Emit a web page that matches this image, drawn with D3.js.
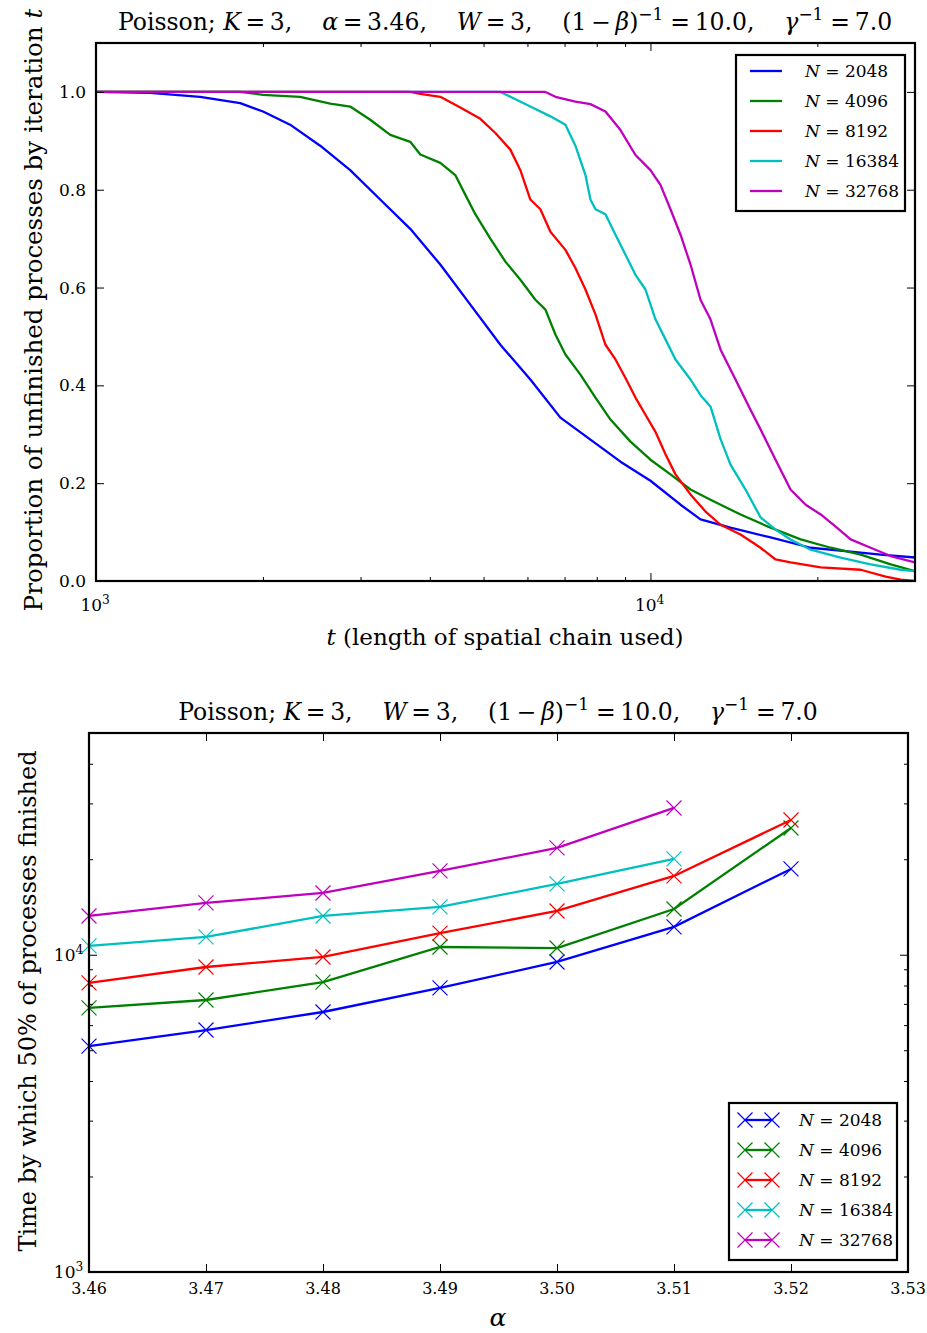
<!DOCTYPE html>
<html><head><meta charset="utf-8">
<script src="https://cdn.jsdelivr.net/npm/d3@7"></script>
<style>
body{margin:0;background:#fff}
text{font-family:"DejaVu Serif","Liberation Serif",serif;fill:#000}
</style>
</head><body>
<svg id="c" width="927" height="1333"></svg>
<script>
// ---------- DATA ----------
const seriesN = [2048, 4096, 8192, 16384, 32768];
const seriesColors = ["#0000ff", "#008000", "#ff0000", "#00bfbf", "#bf00bf"];

// Top chart: proportion of unfinished processes vs t  ([t, proportion])
const curve2048 = [[1000,1],[1252,0.998],[1541,0.99],[1820,0.977],[2001,0.96],[2239,0.933],[2537,0.89],[2874,0.84],[3255,0.78],[3688,0.72],[4178,0.647],[4733,0.565],[5362,0.483],[6073,0.412],[6880,0.334],[7794,0.289],[8829,0.244],[10000,0.205],[11330,0.156],[12310,0.126],[13944,0.109],[16467,0.089],[19450,0.068],[22960,0.06],[26010,0.054],[30000,0.048]];
const curve4096 = [[1000,1],[1820,1],[2001,0.994],[2334,0.99],[2645,0.976],[2874,0.97],[3123,0.943],[3394,0.912],[3688,0.898],[3845,0.872],[4178,0.855],[4446,0.83],[4634,0.79],[4832,0.75],[5143,0.70],[5475,0.653],[5826,0.616],[6201,0.575],[6465,0.555],[6739,0.504],[7025,0.463],[7476,0.422],[7958,0.375],[8470,0.33],[9204,0.285],[10000,0.248],[10867,0.218],[11810,0.187],[12830,0.166],[14537,0.136],[16467,0.109],[18660,0.085],[21140,0.068],[23940,0.054],[27120,0.034],[30000,0.02]];
const curve8192 = [[1000,1],[3688,1],[3845,0.996],[4178,0.99],[4540,0.968],[4934,0.945],[5252,0.916],[5589,0.882],[5826,0.84],[6073,0.78],[6331,0.76],[6600,0.714],[7025,0.677],[7322,0.64],[7634,0.596],[7958,0.545],[8296,0.483],[8648,0.453],[9015,0.415],[9396,0.375],[9795,0.34],[10209,0.305],[10644,0.259],[11095,0.218],[11810,0.177],[12570,0.142],[13380,0.115],[14537,0.095],[15796,0.068],[16812,0.044],[17890,0.038],[20280,0.028],[23940,0.023],[26560,0.009],[28270,0.003],[30000,0]];
const curve16384 = [[1000,1],[5362,1],[5589,0.99],[6073,0.97],[6600,0.95],[7025,0.933],[7322,0.89],[7634,0.83],[7794,0.78],[7958,0.76],[8296,0.75],[8648,0.708],[9015,0.667],[9396,0.626],[9795,0.596],[10209,0.535],[10644,0.494],[11095,0.453],[11810,0.412],[12310,0.38],[12830,0.357],[13380,0.29],[13944,0.238],[14842,0.187],[15796,0.13],[16812,0.105],[17890,0.085],[19450,0.064],[22030,0.048],[24950,0.034],[28270,0.023],[30000,0.02]];
const curve32768 = [[1000,1],[6465,1],[6739,0.99],[7322,0.98],[7794,0.975],[8296,0.96],[8829,0.922],[9396,0.871],[10000,0.84],[10424,0.81],[10867,0.76],[11330,0.708],[11810,0.647],[12310,0.575],[12830,0.535],[13380,0.473],[14236,0.412],[15150,0.35],[15796,0.31],[16812,0.248],[17890,0.187],[19050,0.156],[20280,0.136],[21580,0.111],[22960,0.085],[24950,0.068],[27120,0.051],[30000,0.038]];
const topCurves = [curve2048, curve4096, curve8192, curve16384, curve32768];

const topYTicks = [0, 0.2, 0.4, 0.6, 0.8, 1.0];
const topYTickLabels = ["0.0", "0.2", "0.4", "0.6", "0.8", "1.0"];
const topXMajor = [1000, 10000];
const topXMajorExp = ["3", "4"];
const topXMinor = [2000,3000,4000,5000,6000,7000,8000,9000,20000,30000];

// Bottom chart: time by which 50% finished vs alpha
const alphas = [3.46, 3.47, 3.48, 3.49, 3.50, 3.51, 3.52];
const time2048  = [5150, 5790, 6600, 7860, 9490, 12240, 18640];
const time4096  = [6800, 7200, 8200, 10580, 10500, 13940, 25100];
const time8192  = [8150, 9150, 9840, 11700, 13740, 17720, 26600];
const time16384 = [10660, 11380, 13250, 14150, 16720, 20050];
const time32768 = [13250, 14570, 15660, 18380, 21710, 29020];
const bottomSeries = [time2048, time4096, time8192, time16384, time32768];

const botXTicks = [3.46, 3.47, 3.48, 3.49, 3.50, 3.51, 3.52, 3.53];
const botXTickLabels = ["3.46","3.47","3.48","3.49","3.50","3.51","3.52","3.53"];
const botYMajor = [1000, 10000];
const botYMajorExp = ["3", "4"];
const botYMinor = [2000,3000,4000,5000,6000,7000,8000,9000,20000,30000,40000];

// ---------- DRAW ----------
const svg = d3.select("#c");

function richText(sel, parts, supShift) {
  parts.forEach(p => {
    if (p.sup) {
      sel.append("tspan").attr("dy", -supShift).attr("font-size", "0.72em").text(p.t);
      sel.append("tspan").attr("dy", supShift).text("\u200A");
    } else {
      const ts = sel.append("tspan").text(p.t);
      if (p.i) ts.attr("font-style", "italic");
    }
  });
  return sel;
}

function frame(g, L, R, T, B) {
  g.append("rect").attr("x", L).attr("y", T).attr("width", R - L).attr("height", B - T)
    .attr("fill", "none").attr("stroke", "#000").attr("stroke-width", 2.2);
}

function ticksAxis(g, axisFn, scale, values, size, transform) {
  const ax = axisFn(scale).tickValues(values).tickSize(size).tickFormat("");
  const a = g.append("g").attr("transform", transform).call(ax);
  a.select(".domain").remove();
  a.selectAll("line").attr("stroke", "#000").attr("stroke-width", 1);
}

const EQ = "\u2009=\u2009";

// ===== TOP CHART =====
{
  const L = 96, R = 915, T = 43, B = 581;
  const x = d3.scaleLog().domain([1000, 30000]).range([L, R]);
  const y = d3.scaleLinear().domain([0, 1.1]).range([B, T]);
  const g = svg.append("g");

  const clip = svg.append("clipPath").attr("id", "clipTop");
  clip.append("rect").attr("x", L).attr("y", T).attr("width", R - L).attr("height", B - T);

  const line = d3.line().x(d => x(d[0])).y(d => y(d[1]));
  topCurves.forEach((c, i) => {
    g.append("path").attr("d", line(c)).attr("fill", "none")
      .attr("stroke", seriesColors[i]).attr("stroke-width", 2.3)
      .attr("stroke-linejoin", "round")
      .attr("clip-path", "url(#clipTop)");
  });

  ticksAxis(g, d3.axisBottom, x, topXMajor, -8, `translate(0,${B})`);
  ticksAxis(g, d3.axisBottom, x, topXMinor, -4, `translate(0,${B})`);
  ticksAxis(g, d3.axisTop, x, topXMajor, -8, `translate(0,${T})`);
  ticksAxis(g, d3.axisTop, x, topXMinor, -4, `translate(0,${T})`);
  ticksAxis(g, d3.axisLeft, y, topYTicks, -8, `translate(${L},0)`);
  ticksAxis(g, d3.axisRight, y, topYTicks, -8, `translate(${R},0)`);
  frame(g, L, R, T, B);

  topYTicks.forEach((v, i) => {
    g.append("text").attr("x", L - 10).attr("y", y(v) + 6).attr("text-anchor", "end")
      .attr("font-size", 17).text(topYTickLabels[i]);
  });
  topXMajor.forEach((v, i) => {
    const t = g.append("text").attr("x", x(v)).attr("y", B + 30).attr("text-anchor", "middle")
      .attr("font-size", 17);
    richText(t, [{t: "10"}, {t: topXMajorExp[i], sup: true}], 7);
  });

  const title = g.append("text").attr("x", 505).attr("y", 30).attr("text-anchor", "middle")
    .attr("font-size", 23.5).style("white-space", "pre");
  richText(title, [
    {t: "Poisson; "}, {t: "K", i: true}, {t: EQ + "3,    "}, {t: "α", i: true}, {t: EQ + "3.46,    "},
    {t: "W", i: true}, {t: EQ + "3,    (1\u2009−\u2009"}, {t: "β", i: true}, {t: ")"}, {t: "−1", sup: true},
    {t: EQ + "10.0,    "}, {t: "γ", i: true}, {t: "−1", sup: true}, {t: EQ + "7.0"}
  ], 10);

  const xl = g.append("text").attr("x", 505).attr("y", 645).attr("text-anchor", "middle")
    .attr("font-size", 23);
  richText(xl, [{t: "t", i: true}, {t: " (length of spatial chain used)"}], 0);

  const yl = g.append("text").attr("transform", `translate(42,${310}) rotate(-90)`)
    .attr("text-anchor", "middle").attr("font-size", 24.5);
  richText(yl, [{t: "Proportion of unfinished processes by iteration "}, {t: "t", i: true}], 0);

  const lg = g.append("g");
  lg.append("rect").attr("x", 736).attr("y", 55).attr("width", 169).attr("height", 156)
    .attr("fill", "#fff").attr("stroke", "#000").attr("stroke-width", 2.2);
  seriesN.forEach((n, i) => {
    const yy = 71 + i * 30;
    lg.append("line").attr("x1", 750).attr("x2", 782).attr("y1", yy).attr("y2", yy)
      .attr("stroke", seriesColors[i]).attr("stroke-width", 2.3);
    const t = lg.append("text").attr("x", 805).attr("y", yy + 6).attr("font-size", 17)
      .style("white-space", "pre");
    richText(t, [{t: "N", i: true}, {t: " = " + n}], 0);
  });
}

// ===== BOTTOM CHART =====
{
  const L = 89, R = 908, T = 733, B = 1272;
  const x = d3.scaleLinear().domain([3.46, 3.53]).range([L, R]);
  const y = d3.scaleLog().domain([1000, 50000]).range([B, T]);
  const g = svg.append("g");

  const line = d3.line().x((d, i) => x(alphas[i])).y(d => y(d));
  bottomSeries.forEach((s, k) => {
    g.append("path").attr("d", line(s)).attr("fill", "none")
      .attr("stroke", seriesColors[k]).attr("stroke-width", 2.3);
    s.forEach((v, i) => {
      const cx = x(alphas[i]), cy = y(v), r = 7.5;
      g.append("path").attr("d", `M${cx-r},${cy-r}L${cx+r},${cy+r}M${cx-r},${cy+r}L${cx+r},${cy-r}`)
        .attr("stroke", seriesColors[k]).attr("stroke-width", 1.2).attr("fill", "none");
    });
  });

  ticksAxis(g, d3.axisBottom, x, botXTicks, -8, `translate(0,${B})`);
  ticksAxis(g, d3.axisTop, x, botXTicks, -8, `translate(0,${T})`);
  ticksAxis(g, d3.axisLeft, y, botYMajor, -8, `translate(${L},0)`);
  ticksAxis(g, d3.axisLeft, y, botYMinor, -4, `translate(${L},0)`);
  ticksAxis(g, d3.axisRight, y, botYMajor, -8, `translate(${R},0)`);
  ticksAxis(g, d3.axisRight, y, botYMinor, -4, `translate(${R},0)`);
  frame(g, L, R, T, B);

  botXTicks.forEach((v, i) => {
    g.append("text").attr("x", x(v)).attr("y", B + 22).attr("text-anchor", "middle")
      .attr("font-size", 16).text(botXTickLabels[i]);
  });
  botYMajor.forEach((v, i) => {
    const t = g.append("text").attr("x", L - 4).attr("y", y(v) + 6).attr("text-anchor", "end")
      .attr("font-size", 17);
    richText(t, [{t: "10"}, {t: botYMajorExp[i], sup: true}], 7);
  });

  const title = g.append("text").attr("x", 498).attr("y", 720).attr("text-anchor", "middle")
    .attr("font-size", 23.5).style("white-space", "pre");
  richText(title, [
    {t: "Poisson; "}, {t: "K", i: true}, {t: EQ + "3,    "},
    {t: "W", i: true}, {t: EQ + "3,    (1\u2009−\u2009"}, {t: "β", i: true}, {t: ")"}, {t: "−1", sup: true},
    {t: EQ + "10.0,    "}, {t: "γ", i: true}, {t: "−1", sup: true}, {t: EQ + "7.0"}
  ], 10);

  const xl = g.append("text").attr("x", 498).attr("y", 1326).attr("text-anchor", "middle")
    .attr("font-size", 25);
  richText(xl, [{t: "α", i: true}], 0);

  g.append("text").attr("transform", `translate(36,${1001}) rotate(-90)`)
    .attr("text-anchor", "middle").attr("font-size", 24)
    .text("Time by which 50% of processes finished");

  const lg = g.append("g");
  lg.append("rect").attr("x", 729).attr("y", 1103).attr("width", 168).attr("height", 157)
    .attr("fill", "#fff").attr("stroke", "#000").attr("stroke-width", 2.2);
  seriesN.forEach((n, i) => {
    const yy = 1120 + i * 30;
    lg.append("line").attr("x1", 745).attr("x2", 772).attr("y1", yy).attr("y2", yy)
      .attr("stroke", seriesColors[i]).attr("stroke-width", 2.3);
    [745, 772].forEach(cx => {
      const r = 7.5;
      lg.append("path").attr("d", `M${cx-r},${yy-r}L${cx+r},${yy+r}M${cx-r},${yy+r}L${cx+r},${yy-r}`)
        .attr("stroke", seriesColors[i]).attr("stroke-width", 1.2).attr("fill", "none");
    });
    const t = lg.append("text").attr("x", 799).attr("y", yy + 6).attr("font-size", 17)
      .style("white-space", "pre");
    richText(t, [{t: "N", i: true}, {t: " = " + n}], 0);
  });
}
</script>
</body></html>
